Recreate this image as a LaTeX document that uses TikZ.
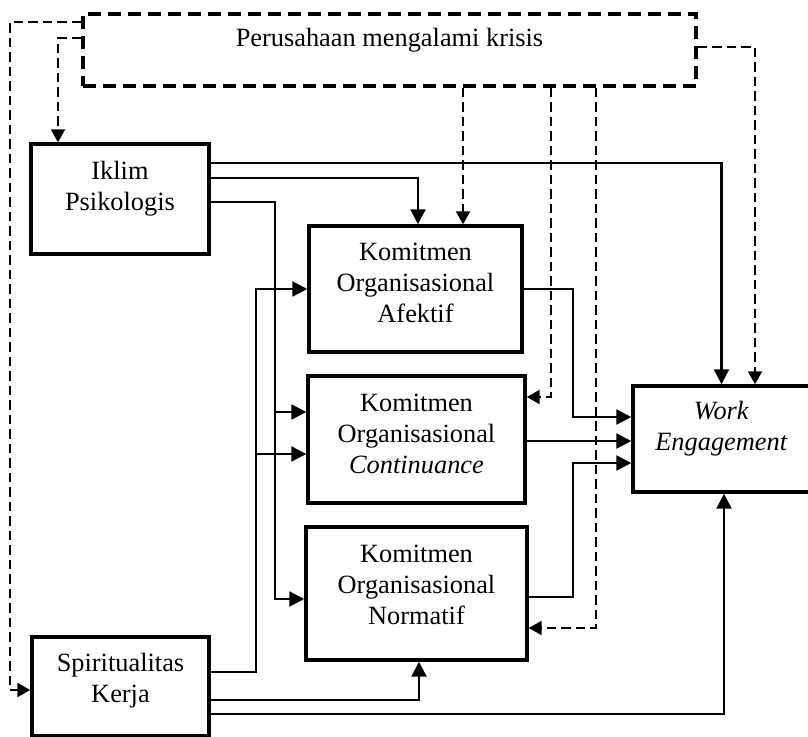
\documentclass[tikz,border=0pt]{standalone}
\usepackage{fontspec}
\setmainfont{Liberation Serif}
\usetikzlibrary{arrows.meta}

\tikzset{
  varbox/.style={draw, line width=2pt, inner sep=0pt},
  vartext/.style={font=\fontsize{15}{17.6}\selectfont, align=center, inner sep=0pt},
  link/.style={line width=1.3pt, -{Triangle[length=0.3cm,width=0.3cm]}},
  dlink/.style={line width=1.3pt, dash pattern=on 0.19cm off 0.1cm,
    -{Triangle[length=0.26cm,width=0.28cm]}}
}

\begin{document}
\begin{tikzpicture}[x=0.02cm, y=-0.02cm]
\useasboundingbox (0,0) rectangle (808,737);

% variables
\node[varbox, line width=2.2pt, dash pattern=on 0.26cm off 0.14cm,
  minimum width=12.26cm, minimum height=1.44cm,
  label={[vartext, yshift=0.2cm, name=krisistxt]center:Perusahaan mengalami krisis}]
  (krisis) at (389.5,50) {};
\node[varbox, minimum width=3.56cm, minimum height=2.2cm,
  label={[vartext, yshift=0.21cm, name=iklimtxt]center:Iklim\\Psikologis}]
  (iklim) at (120,199) {};
\node[varbox, minimum width=3.54cm, minimum height=1.98cm,
  label={[vartext, yshift=0.11cm, name=spirittxt]center:Spiritualitas\\Kerja}]
  (spirit) at (120.5,686.5) {};
\node[varbox, minimum width=4.26cm, minimum height=2.52cm,
  label={[vartext, yshift=0.12cm, name=afektiftxt]center:Komitmen\\Organisasional\\Afektif}]
  (afektif) at (415.5,289) {};
\node[varbox, minimum width=4.34cm, minimum height=2.54cm,
  label={[vartext, yshift=0.11cm, name=continuancetxt]center:Komitmen\\Organisasional\\\textit{Continuance}}]
  (continuance) at (416.5,439.5) {};
\node[varbox, minimum width=4.42cm, minimum height=2.66cm,
  label={[vartext, yshift=0.17cm, name=normatiftxt]center:Komitmen\\Organisasional\\Normatif}]
  (normatif) at (416.5,593.5) {};
\node[varbox, minimum width=3.54cm, minimum height=2.12cm,
  label={[vartext, yshift=0.2cm, name=wetxt]center:\textit{Work}\\\textit{Engagement}}]
  (we) at (721.5,439) {};

% Iklim Psikologis
\draw[link] (iklim.east |- 0,163) -| (we.north);
\draw[link] (iklim.east |- 0,178) -| (afektif.north -| 418,0);
\draw[link] (iklim.east |- 0,202) -| (275,599) -- (normatif.west |- 0,599);
\draw[link] (275,412) -- (continuance.west |- 0,412);

% Spiritualitas Kerja
\draw[link] (spirit.east |- 0,672) -| (256,289) -- (afektif.west |- 0,289);
\draw[link] (256,454) -- (continuance.west |- 0,454);
\draw[link] (spirit.east |- 0,700) -| (normatif.south -| 419,0);
\draw[link] (spirit.east |- 0,714) -| (we.south -| 724,0);

% komitmen -> work engagement
\draw[link] (afektif.east) -| (573,417) -- (we.west |- 0,417);
\draw[link] (continuance.east |- 0,441) -- (we.west |- 0,441);
\draw[link] (normatif.east |- 0,597) -| (573,463) -- (we.west |- 0,463);

% krisis
\draw[dlink] (krisis.west |- 0,22) -| (10,690) -- (spirit.west |- 0,690);
\draw[dlink] (krisis.west |- 0,38) -| (iklim.north -| 58,0);
\draw[dlink] (krisis.south -| 463,0) -- (afektif.north -| 463,0);
\draw[dlink] (krisis.south -| 551,0) |- (continuance.east |- 0,397);
\draw[dlink] (krisis.south -| 596,0) |- (normatif.east |- 0,628);
\draw[dlink] (krisis.east |- 0,47) -| (we.north -| 755,0);

\end{tikzpicture}
\end{document}
